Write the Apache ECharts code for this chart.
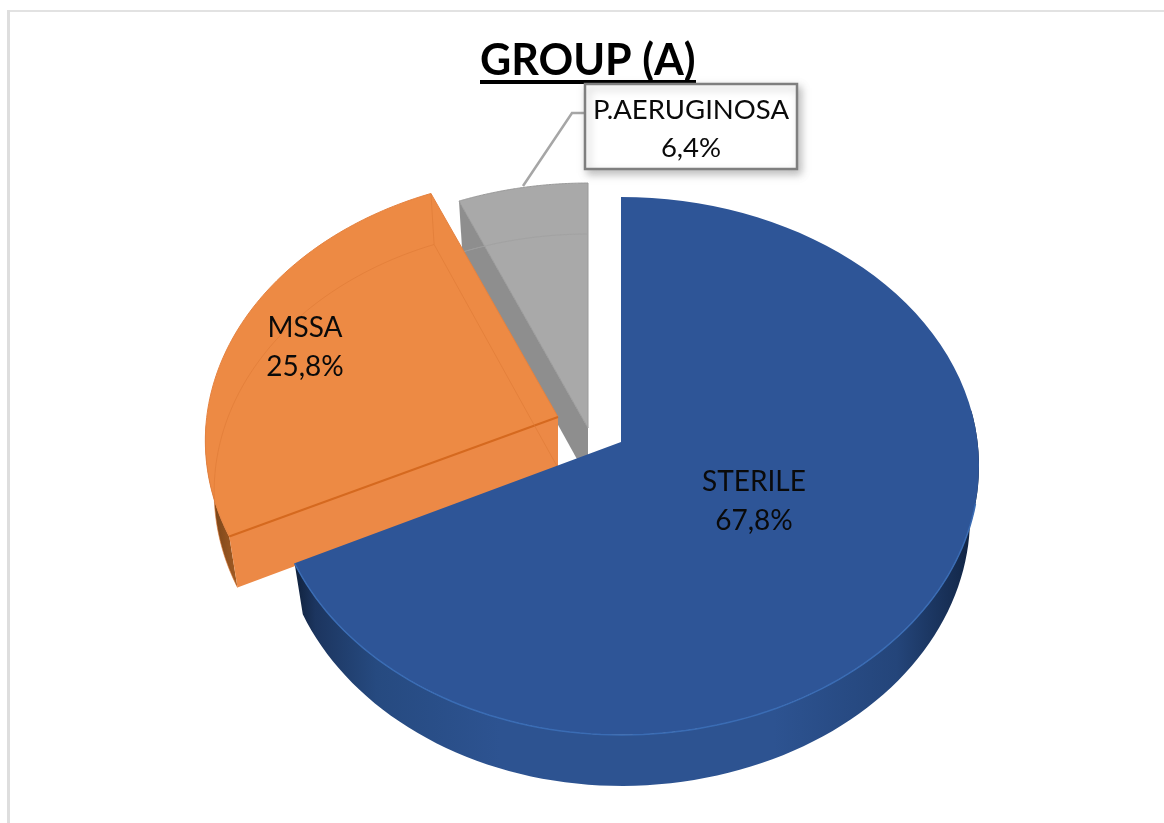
<!DOCTYPE html>
<html><head><meta charset="utf-8">
<script src="https://cdn.jsdelivr.net/npm/echarts@6/dist/echarts.min.js"></script>
<style>html,body{margin:0;padding:0;background:#fff}#c{width:1164px;height:823px}</style>
</head><body><div id="c"></div>
<script>
const categories = ['STERILE', 'MSSA', 'P.AERUGINOSA'];
const shares = [67.8, 25.8, 6.4];
const titleText = 'GROUP (A)';

// Layout of the tilted pie (projection of a unit disc)
const SX = 356.6, SY = 266.8, K = 0.0891, DEPTH = 51, SHRINK = 0.975;
const apexes = [[621, 442], [558, 417], [588, 428]];
const leftScale = [0.978, 0.985, 1];
const vertScale = [1, 0.985, 1];
const labelAt = [[754, 501.5], [305, 347.5], [691, 129]];
const labelLine = [39, 39, 38];
const palette = [
  {top: '#2E5597', edge: '#3A6CB4', wall: [[0,'#10213c'],[0.03,'#1c355f'],[0.12,'#264a80'],[0.3,'#2D5391'],[0.7,'#2D5391'],[0.88,'#24457a'],[0.97,'#152b4f'],[1,'#0e1e38']]},
  {top: '#ED8A44', edge: '#D5691F', wall: [[0,'#6b3d16'],[1,'#a35c24']], cut: '#EC8946', faint: '#DE7A35'},
  {top: '#A9A9A9', edge: '#9A9A9A', wall: [[0,'#8A8A8A'],[1,'#8E8E8E']], cut: '#8E8E8E', faint: '#A2A2A2'}
];

function projector(i) {
  return function (apex, theta, lower) {
    const u = Math.sin(theta), v = -Math.cos(theta), w = 1 - K * v;
    const s = (lower ? SX * SHRINK : SX) * (u < 0 ? leftScale[i] : 1);
    return [apex[0] + s * u / w, apex[1] + (lower ? DEPTH : 0) + SY * vertScale[i] * v / w];
  };
}
const total = shares.reduce((a, b) => a + b, 0);
const TAU = Math.PI * 2;
function sliceAngles(i) {
  let before = 0;
  for (let j = 0; j < i; j++) before += shares[j];
  return [before / total * TAU, (before + shares[i]) / total * TAU];
}
function labelText(i) {
  return categories[i] + '\n' + shares[i].toFixed(1).replace('.', ',') + '%';
}
const FONT = 'Lato, "Open Sans", sans-serif';

function renderSlice(params, api) {
  const i = params.dataIndex;
  const [a0, a1] = sliceAngles(i);
  const apex = apexes[i], c = palette[i];
  const project = projector(i);
  const arc = function (a, b, lower) {
    const pts = [], n = 90;
    for (let k = 0; k <= n; k++) pts.push(project(apex, a + (b - a) * k / n, lower));
    return pts;
  };
  const lowerApex = [apex[0], apex[1] + DEPTH];
  const base = [30, 20, 10][i];
  const top = [apex].concat(arc(a0, a1, false));
  const kids = [];
  const wallFill = new echarts.graphic.LinearGradient(0, 0, 1, 0, c.wall.map(s => ({offset: s[0], color: s[1]})));

  if (i === 0) {
    const from = a0 + 1.45, to = a1;
    kids.push({type: 'polygon', z2: base, shape: {points: arc(from, to, false).concat(arc(to, from, true))}, style: {fill: wallFill}});
    kids.push({type: 'polygon', z2: base + 1, shape: {points: top}, style: {fill: c.top}});
    kids.push({type: 'polyline', z2: base + 2, shape: {points: arc(1.8, a1, false)}, style: {stroke: c.edge, lineWidth: 1.5, fill: 'none'}});
  }
  if (i === 1) {
    const cutEnd = project(apex, a0, false), cutLow = project(apex, a0, true);
    kids.push({type: 'polygon', z2: base, shape: {points: arc(a0, a0 + 0.42, false).concat(arc(a0 + 0.42, a0, true))}, style: {fill: wallFill}});
    kids.push({type: 'polygon', z2: base + 1, shape: {points: top}, style: {fill: c.top, stroke: '#E58240', lineWidth: 1}});
    kids.push({type: 'polygon', z2: base + 1, shape: {points: [apex, cutEnd, cutLow, lowerApex]}, style: {fill: c.cut}});
    kids.push({type: 'polyline', z2: base + 2, shape: {points: [apex, cutEnd]}, style: {stroke: c.edge, lineWidth: 2, fill: 'none'}});
    kids.push({type: 'polyline', z2: base + 2, shape: {points: arc(a0, a1, true).concat([lowerApex])}, style: {stroke: c.faint, lineWidth: 1, opacity: 0.6, fill: 'none'}});
    kids.push({type: 'polyline', z2: base + 2, shape: {points: [project(apex, a1, false), project(apex, a1, true)]}, style: {stroke: c.faint, lineWidth: 1, opacity: 0.6, fill: 'none'}});
  }
  if (i === 2) {
    const corner = project(apex, a0, false), cornerLow = project(apex, a0, true);
    kids.push({type: 'polygon', z2: base, shape: {points: [corner, apex, lowerApex, cornerLow]}, style: {fill: c.cut}});
    kids.push({type: 'polygon', z2: base + 1, shape: {points: top}, style: {fill: c.top, stroke: c.edge, lineWidth: 1}});
    kids.push({type: 'polyline', z2: base + 2, shape: {points: arc(a0, a1, true)}, style: {stroke: c.faint, lineWidth: 1, fill: 'none'}});
    // callout box and leader
    kids.push({type: 'polyline', z2: 40, shape: {points: [[585, 113], [572, 113], [523, 186]]}, style: {stroke: '#A6A6A6', lineWidth: 2.5, fill: 'none'}});
    kids.push({type: 'rect', z2: 41, shape: {x: 585, y: 84, width: 212, height: 85}, style: {fill: '#fff', stroke: '#7F7F7F', lineWidth: 2.5, shadowColor: 'rgba(0,0,0,0.25)', shadowBlur: 8, shadowOffsetX: 3, shadowOffsetY: 4}});
  }
  kids.push({type: 'text', z2: 50, style: {text: labelText(i), x: labelAt[i][0], y: labelAt[i][1], align: 'center', verticalAlign: 'middle', fill: '#0a0a0a', font: (i === 2 ? '27.5px ' : '28px ') + FONT, lineHeight: labelLine[i]}});
  return {type: 'group', children: kids};
}

const chart = echarts.init(document.getElementById('c'), null, {renderer: 'canvas'});
chart.setOption({
  animation: false,
  backgroundColor: '#fff',
  title: {text: titleText, left: 480, top: 40, textStyle: {fontFamily: FONT, fontWeight: 'bold', fontSize: 43, color: '#000'}, padding: 0},
  graphic: [
    {type: 'rect', shape: {x: 480, y: 80, width: 216, height: 4}, style: {fill: '#000'}},
    {type: 'rect', shape: {x: 7, y: 10, width: 1157, height: 2}, style: {fill: '#E2E2E2'}},
    {type: 'rect', shape: {x: 7, y: 10, width: 3, height: 813}, style: {fill: '#DEDEDE'}}
  ],
  series: [{
    type: 'custom',
    coordinateSystem: 'none',
    renderItem: renderSlice,
    data: shares.map((v, i) => ({name: categories[i], value: v})),
    silent: true
  }]
});
</script></body></html>
